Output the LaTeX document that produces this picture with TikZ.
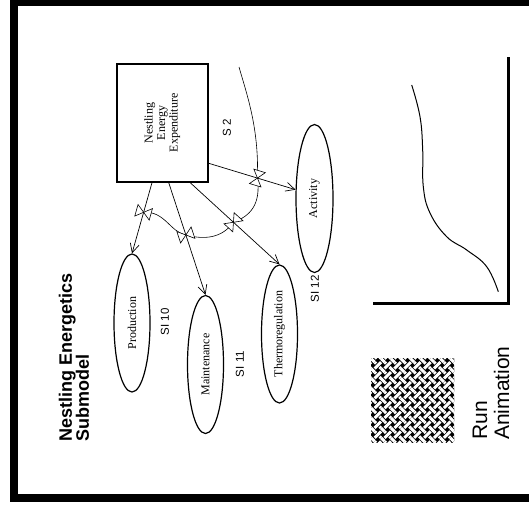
\documentclass[tikz,border=0pt]{standalone}
\usepackage{fontspec}
\setmainfont{Liberation Serif}
\setsansfont{Liberation Sans}
\usepackage{graphicx}
\usetikzlibrary{arrows.meta,calc,shapes.geometric}

% valve drawn across a flow: local x runs along the flow
\tikzset{
  valve/.pic={\filldraw[fill=white, line width=0.6pt]
     (-6,-7.5) -- (6,-7.5) -- (-6,7.5) -- (6,7.5) -- cycle;}
}
% #1 where, #2 -> #3 the flow it sits on
\newcommand\valveon[3]{%
  \path let \p1=($(#3)-(#2)$), \n1={atan2(\y1,\x1)} in (#1) pic[rotate=\n1]{valve};}

\begin{document}
\begin{tikzpicture}[x=1pt,y=-1pt,
  flow/.style={line width=0.7pt, -{Straight Barb[length=9pt,width=9pt]}},
  link/.style={line width=0.6pt},
  sector/.style={draw, ellipse, line width=1.2pt, minimum width=36pt,
     minimum height=138pt, inner sep=0pt, font=\fontsize{12}{14}\selectfont},
  tag/.style={font=\sffamily\fontsize{11.5}{13}\selectfont, rotate=90, inner sep=0pt}
]
\useasboundingbox (0,0) rectangle (529,506);
\clip (0,0) rectangle (529,506);

% outer frame
\draw[line width=8pt] (13.5,1.5) rectangle (560,497.5);

% title
\node[rotate=90, anchor=west, align=left, inner sep=0pt,
      font=\sffamily\bfseries\fontsize{18}{17}\selectfont] (title) at (74,442)
      {Nestling Energetics\\Submodel};

% stock and sectors
\node[draw, line width=1.8pt, minimum width=91pt, minimum height=118pt, inner sep=0pt]
  (box) at (162.5,123)
  {\rotatebox{90}{\fontsize{12}{12.5}\selectfont\begin{tabular}{@{}c@{}}Nestling\\Energy\\Expenditure\end{tabular}}};

\node[sector] (prod) at (132,323) {\rotatebox{90}{Production}};
\node[sector] (maint) at (205.5,364.5) {\rotatebox{90}{Maintenance}};
\node[sector] (thermo) at (279.5,334) {\rotatebox{90}{Thermoregulation}};
\node[sector, minimum width=37pt, minimum height=148pt] (act) at (314.5,198.5) {\rotatebox{90}{Activity}};

\node[tag] (s2) at (227,128) {S 2};
\node[tag] (si10) at (165,322) {SI 10};
\node[tag] (si11) at (240,364) {SI 11};
\node[tag] (si12) at (315,289) {SI 12};

% flows out of the stock
\draw[flow] (box.260) -- coordinate[pos=0.417] (vP) (prod.north);
\draw[flow] (box.276) -- coordinate[pos=0.465] (vM) (maint.north);
\draw[flow] (box.295) -- coordinate[pos=0.483] (vT) (thermo.north);
\draw[flow] (box.319) -- coordinate[pos=0.56] (vA) (act.155);

% connector chain through the valves
\coordinate (src) at (239,67);
\draw[link] (src) .. controls (247,95) and (259,128) .. (vA)
            (vA) .. controls (261,205) and (250,216) .. (vT)
            (vT) .. controls (222,238) and (205,240) .. (vM)
            (vM) .. controls (170,232) and (165,211) .. (vP);

\valveon{vP}{box.260}{prod.north}
\valveon{vM}{box.276}{maint.north}
\valveon{vT}{box.295}{thermo.north}
\valveon{vA}{box.319}{act.155}

% graph
\draw[line width=3pt] (373,303) -- (508,303) -- (508,57);
\draw[line width=1pt] plot[smooth, tension=0.7] coordinates
  {(411.7,85) (420,116.7) (422.7,150) (423.3,186.7) (430,213)
   (446.7,236.7) (466.7,250) (486.7,266.7) (498.3,291.7)};

% animation button with woven texture
\begin{scope}
  \clip (371,358) rectangle (454,442);
  \fill[black] (371,358) rectangle (454,442);
  \begin{scope}[shift={(412.5,400)}, rotate=45]
    \foreach \j in {-9,...,9}
      \draw[white, line width=3pt] (7*\j,-64) -- (7*\j,64);
    \foreach \i in {-9,...,9} {
      \draw[black, line width=4.6pt] (-64,7*\i) -- (64,7*\i);
      \draw[white, line width=3pt] (-64,7*\i) -- (64,7*\i);
    }
    \foreach \i in {-9,...,9} {
      \foreach \j in {-9,...,9} {
        \pgfmathtruncatemacro\weaveodd{mod(\i+\j+100,2)}
        \ifnum\weaveodd=0
          \draw[black, line width=4.6pt] (7*\j,7*\i-2.4) -- (7*\j,7*\i+2.4);
          \draw[white, line width=3pt] (7*\j,7*\i-2.5) -- (7*\j,7*\i+2.5);
        \fi
      }
    }
  \end{scope}
\end{scope}

\node[rotate=90, anchor=west, align=left, inner sep=0pt,
      font=\sffamily\fontsize{21}{22}\selectfont] (run) at (491,440)
      {Run\\Animation};
\end{tikzpicture}
\end{document}
